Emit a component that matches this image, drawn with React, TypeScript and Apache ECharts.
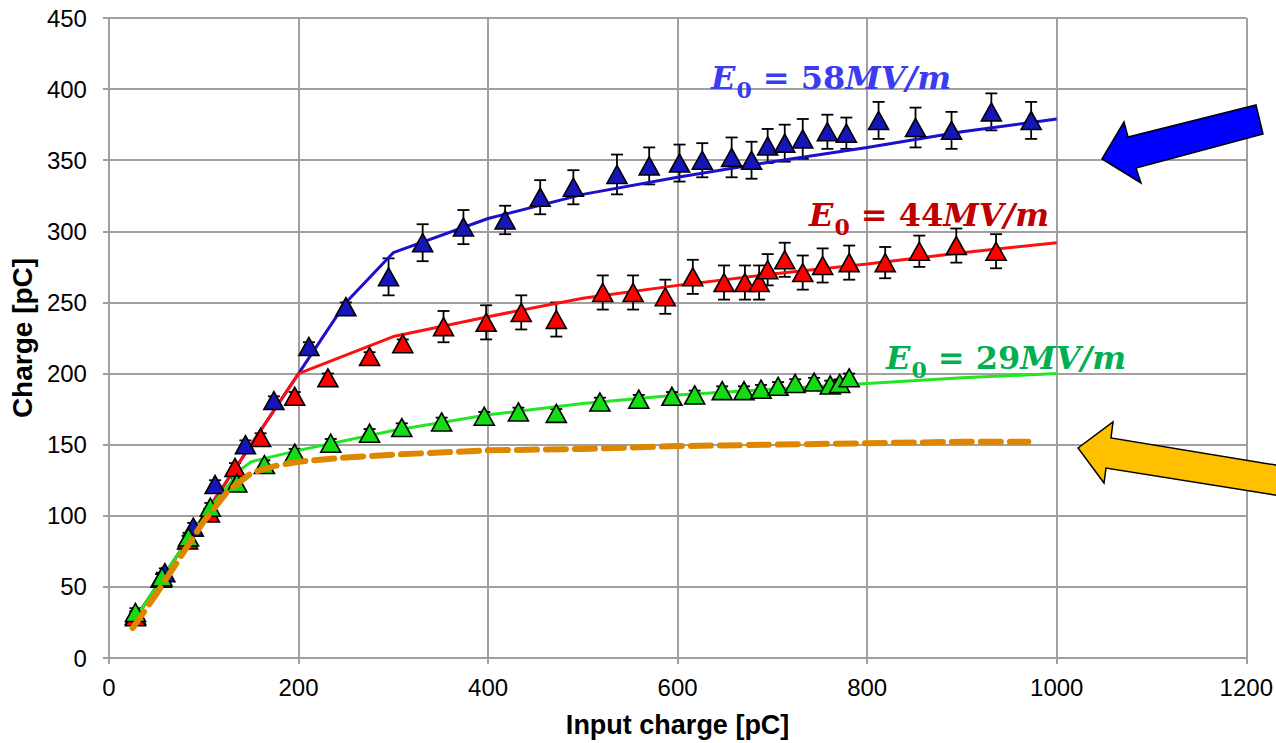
import React, { useEffect, useRef } from 'react';
import * as echarts from 'echarts';

// ---- Measured points (input charge [pC], output charge [pC], error [pC]) ----
const blueX = [28, 59, 89, 112, 144, 174, 211, 250, 295, 331, 374, 418, 455, 490, 536, 570, 602, 626, 657, 678, 695, 713, 732, 758, 778, 812, 851, 889, 931, 973];
const blueY = [30, 60, 92, 122, 150, 181, 219, 247, 268, 292, 303, 308, 324, 331, 340, 346, 348, 350, 352, 350, 360, 362, 365, 370, 369, 378, 373, 371, 384, 378];
const blueErr = [3, 3, 3, 3, 3, 3, 3, 3, 13, 13, 12, 10, 12, 12, 14, 13, 13, 12, 14, 13, 12, 13, 14, 12, 11, 13, 14, 13, 13, 13];

const redX = [28, 55, 83, 106, 133, 160, 196, 231, 275, 310, 353, 398, 435, 472, 521, 553, 587, 616, 649, 671, 686, 695, 713, 732, 753, 781, 819, 855, 894, 936];
const redY = [29, 56, 83, 102, 134, 155, 184, 197, 212, 221, 233, 236, 243, 238, 257, 257, 254, 268, 264, 264, 264, 273, 280, 271, 276, 278, 278, 286, 290, 286];
const redErr = [3, 3, 3, 3, 3, 3, 3, 3, 3, 3, 11, 12, 12, 12, 12, 12, 12, 12, 12, 12, 12, 11, 12, 12, 12, 12, 11, 11, 12, 12];

const greenX = [28, 56, 84, 107, 135, 164, 196, 234, 275, 309, 351, 396, 432, 472, 518, 559, 594, 618, 647, 670, 688, 706, 724, 744, 761, 771, 781];
const greenY = [32, 57, 85, 106, 123, 136, 144, 151, 158, 162, 166, 170, 173, 172, 180, 182, 184, 185, 188, 188, 189, 191, 193, 194, 192, 193, 197];
const greenErr = [3, 3, 3, 3, 3, 3, 3, 3, 3, 3, 3, 3, 3, 3, 3, 3, 3, 3, 3, 3, 3, 3, 3, 3, 3, 3, 3];

// ---- Simulation curves ----
const blueSimX = [25, 50, 100, 150, 200, 250, 300, 400, 500, 600, 700, 800, 900, 1000];
const blueSimY = [25, 50, 100, 150, 200, 250, 285, 309, 326, 338, 349, 359, 370, 379];

const redSimX = [25, 50, 100, 150, 200, 300, 400, 500, 600, 700, 800, 900, 1000];
const redSimY = [25, 50, 100, 150, 200, 226, 240, 253, 262, 270, 277, 285, 292];

const greenSimX = [25, 50, 100, 140, 150, 200, 300, 400, 500, 600, 700, 800, 900, 1000];
const greenSimY = [25, 50, 100, 133, 138, 146, 160, 171, 179, 185, 189, 193, 197, 200];

const orangeSimX = [25, 50, 100, 125, 150, 175, 200, 250, 300, 400, 500, 600, 700, 800, 900, 970];
const orangeSimY = [21, 45, 96, 117, 130, 135, 138, 141, 143, 146, 147, 149, 150, 151, 152, 152];

// ---- Axis ticks ----
const xTicks = { min: 0, max: 1200, interval: 200 };
const yTicks = { min: 0, max: 450, interval: 50 };

const labelTexts = [
  { field: '58', color: '#3B3BF2' },
  { field: '44', color: '#C00000' },
  { field: '29', color: '#00B050' },
];

const zip = (xs: number[], ys: number[]) => xs.map((x, i) => [x, ys[i]]);
const errData = (xs: number[], ys: number[], es: number[]) =>
  xs.map((x, i) => [x, ys[i] - es[i], ys[i] + es[i]]);

const errRender = (_params: any, api: any) => {
  const x = api.value(0);
  const lo = api.value(1);
  const hi = api.value(2);
  const pt = api.coord([x, hi]);
  const pb = api.coord([x, lo]);
  const w = 6;
  const style = { stroke: '#000', lineWidth: 1.8 };
  return {
    type: 'group',
    children: [
      { type: 'line', shape: { x1: pt[0], y1: pt[1], x2: pb[0], y2: pb[1] }, style },
      { type: 'line', shape: { x1: pt[0] - w, y1: pt[1], x2: pt[0] + w, y2: pt[1] }, style },
      { type: 'line', shape: { x1: pb[0] - w, y1: pb[1], x2: pb[0] + w, y2: pb[1] }, style },
    ],
  };
};

const mathRich = (color: string) => {
  const base = { fontFamily: 'DejaVu Serif', fontWeight: 'bold' as const, fontSize: 32, fill: color };
  return {
    e: { ...base, fontStyle: 'italic' as const },
    s: { ...base, fontSize: 22, padding: [24, 0, 0, 1] },
    n: { ...base },
    i: { ...base, fontStyle: 'italic' as const },
  };
};

export default function App() {
  const ref = useRef<HTMLDivElement>(null);

  useEffect(() => {
    const chart = echarts.init(ref.current!, null, { renderer: 'svg' });
    const gridColor = '#A0A0A0';
    const labelPos = [
      { x: 711, y: 78 },
      { x: 809, y: 215 },
      { x: 886, y: 358 },
    ];
    const triangle = (color: string) => ({
      type: 'scatter' as const,
      symbol: 'triangle',
      symbolSize: [20, 18],
      itemStyle: { color, borderColor: '#000', borderWidth: 1.6, opacity: 1 },
      z: 4,
    });
    const option: any = {
      animation: false,
      backgroundColor: '#fff',
      grid: { left: 106, right: 27, top: 18, bottom: 85, containLabel: false },
      xAxis: {
        type: 'value',
        min: xTicks.min,
        max: xTicks.max,
        interval: xTicks.interval,
        name: 'Input charge [pC]',
        nameLocation: 'middle',
        nameGap: 53,
        nameTextStyle: { fontFamily: 'Liberation Sans', fontWeight: 'bold', fontSize: 27, color: '#000' },
        axisLine: { show: true, lineStyle: { color: gridColor, width: 2 } },
        axisTick: { show: true, length: 6, lineStyle: { color: gridColor, width: 2 } },
        axisLabel: {
          fontFamily: 'Liberation Sans', fontSize: 24, color: '#000', margin: 17,
          showMinLabel: true, showMaxLabel: true,
          formatter: (v: number) => String(v),
        },
        splitLine: { show: true, lineStyle: { color: gridColor, width: 2 } },
      },
      yAxis: {
        type: 'value',
        min: yTicks.min,
        max: yTicks.max,
        interval: yTicks.interval,
        name: 'Charge [pC]',
        nameLocation: 'middle',
        nameGap: 72,
        nameTextStyle: { fontFamily: 'Liberation Sans', fontWeight: 'bold', fontSize: 28, color: '#000' },
        axisLine: { show: true, lineStyle: { color: gridColor, width: 2 } },
        axisTick: { show: true, length: 6, lineStyle: { color: gridColor, width: 2 } },
        axisLabel: {
          fontFamily: 'Liberation Sans', fontSize: 24, color: '#000', margin: 22,
          showMinLabel: true, showMaxLabel: true,
          formatter: (v: number) => String(v),
        },
        splitLine: { show: true, lineStyle: { color: gridColor, width: 2 } },
      },
      series: [
        { type: 'custom', renderItem: errRender, data: errData(blueX, blueY, blueErr), encode: { x: 0, y: [1, 2] }, z: 2 },
        { type: 'custom', renderItem: errRender, data: errData(redX, redY, redErr), encode: { x: 0, y: [1, 2] }, z: 2 },
        { type: 'custom', renderItem: errRender, data: errData(greenX, greenY, greenErr), encode: { x: 0, y: [1, 2] }, z: 2 },
        { type: 'line', data: zip(blueSimX, blueSimY), showSymbol: false, lineStyle: { color: '#1C10CC', width: 3 }, z: 3 },
        { type: 'line', data: zip(redSimX, redSimY), showSymbol: false, lineStyle: { color: '#FF1010', width: 3 }, z: 3 },
        { type: 'line', data: zip(greenSimX, greenSimY), showSymbol: false, lineStyle: { color: '#22E622', width: 3 }, z: 3 },
        { ...triangle('#1616B8'), data: zip(blueX, blueY) },
        { ...triangle('#FF0000'), data: zip(redX, redY) },
        { ...triangle('#14DC14'), data: zip(greenX, greenY) },
        {
          type: 'line',
          data: zip(orangeSimX, orangeSimY),
          showSymbol: false,
          lineStyle: { color: '#DF8600', width: 6, type: [20, 9], cap: 'round' },
          z: 5,
        },
      ],
      graphic: [
        ...labelTexts.map((l, i) => ({
          type: 'text',
          x: labelPos[i].x,
          y: labelPos[i].y,
          z: 10,
          style: {
            text: `{e|E}{s|0}{n| = ${l.field}}{i|MV/m}`,
            verticalAlign: 'middle',
            align: 'left',
            fill: l.color,
            rich: mathRich(l.color),
          },
        })),
        {
          type: 'polygon',
          z: 10,
          shape: { points: [[1102, 159], [1124, 122], [1128, 137], [1256, 105], [1263, 134], [1136, 168], [1141, 183]] },
          style: { fill: '#0000FF', stroke: '#000', lineWidth: 1.5 },
        },
        {
          type: 'polygon',
          z: 10,
          shape: { points: [[1078, 448], [1113, 422], [1111, 438], [1300, 469], [1300, 499], [1106, 468], [1104, 483]] },
          style: { fill: '#FFC000', stroke: '#000', lineWidth: 1.5 },
        },
      ],
    };
    chart.setOption(option);
    return () => chart.dispose();
  }, []);

  return <div ref={ref} style={{ position: 'absolute', left: 0, top: 0, width: 1276, height: 743 }} />;
}
